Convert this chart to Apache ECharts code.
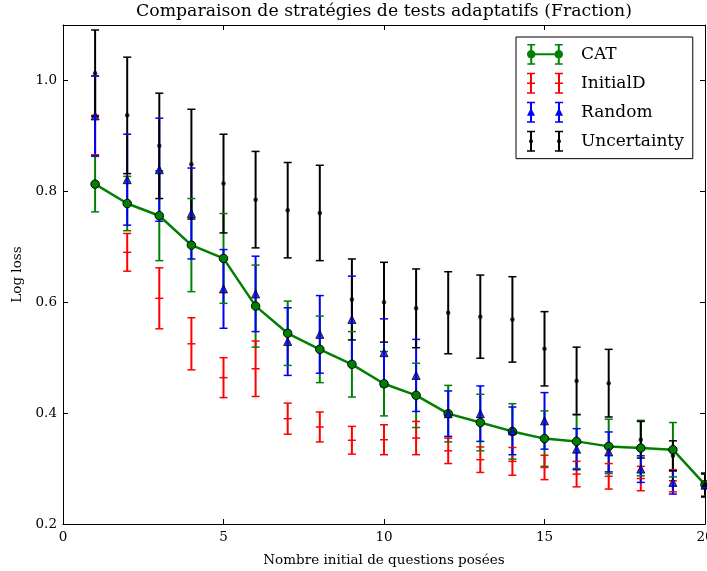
<!DOCTYPE html>
<html>
<head>
<meta charset="utf-8">
<script src="https://cdn.jsdelivr.net/npm/echarts@6/dist/echarts.min.js"></script>
<style>
html,body{margin:0;padding:0;background:#fff;}
#chart{width:707px;height:571px;}
</style>
</head>
<body>
<div id="chart"></div>
<script>
// ---- data ----
const xValues = [1,2,3,4,5,6,7,8,9,10,11,12,13,14,15,16,17,18,19,20];
const catMean = [0.813,0.778,0.756,0.703,0.679,0.593,0.544,0.515,0.488,0.453,0.432,0.399,0.383,0.367,0.354,0.349,0.340,0.337,0.334,0.271];
const catErr  = [0.050,0.049,0.081,0.084,0.081,0.074,0.058,0.060,0.059,0.058,0.058,0.051,0.051,0.050,0.050,0.049,0.049,0.050,0.049,0.021];
const initMean = [0.937,0.690,0.607,0.525,0.464,0.480,0.390,0.375,0.351,0.352,0.355,0.332,0.316,0.313,0.302,0.290,0.286,0.282,0.278,0.270];
const initErr  = [0.071,0.034,0.055,0.047,0.036,0.050,0.028,0.027,0.025,0.027,0.030,0.023,0.023,0.025,0.022,0.023,0.023,0.022,0.020,0.020];
const randMean = [0.936,0.821,0.839,0.760,0.624,0.615,0.529,0.542,0.569,0.509,0.468,0.399,0.399,0.368,0.386,0.335,0.330,0.299,0.275,0.270];
const randErr  = [0.072,0.082,0.093,0.082,0.071,0.068,0.061,0.070,0.078,0.061,0.065,0.041,0.050,0.043,0.051,0.037,0.036,0.024,0.021,0.021];
const uncMean = [1.013,0.937,0.882,0.849,0.814,0.785,0.766,0.761,0.605,0.600,0.589,0.581,0.574,0.569,0.516,0.458,0.454,0.352,0.323,0.270];
const uncErr  = [0.078,0.105,0.095,0.099,0.089,0.087,0.086,0.086,0.073,0.072,0.071,0.074,0.075,0.077,0.067,0.061,0.061,0.033,0.027,0.021];
const xTicks = [0,5,10,15,20];
const yTicks = [0.2,0.4,0.6,0.8,1.0];
const seriesNames = ['CAT','InitialD','Random','Uncertainty'];
const titleText = 'Comparaison de stratégies de tests adaptatifs (Fraction)';

const FONT = 'DejaVu Serif';
const GREEN = '#008000', RED = '#ff0000', BLUE = '#0000ff', BLACK = '#000000';

function errData(means, errs){
  return xValues.map((x,i)=>[x, means[i]-errs[i], means[i]+errs[i], means[i]]);
}
function pts(means){ return xValues.map((x,i)=>[x, means[i]]); }

function makeErrRender(color, mode, midTick){
  return function(params, api){
    const x = api.value(0);
    const lo = api.coord([x, api.value(1)]);
    const hi = api.coord([x, api.value(2)]);
    const h = 4;
    const children = [];
    if (mode === 'bar'){
      children.push({type:'line', shape:{x1:hi[0],y1:hi[1],x2:lo[0],y2:lo[1]}, style:{stroke:color,lineWidth:2}});
    } else {
      children.push({type:'line', shape:{x1:hi[0]-h,y1:hi[1],x2:hi[0]+h,y2:hi[1]}, style:{stroke:color,lineWidth:1.5}});
      children.push({type:'line', shape:{x1:lo[0]-h,y1:lo[1],x2:lo[0]+h,y2:lo[1]}, style:{stroke:color,lineWidth:1.5}});
      if (midTick){
        const m = api.coord([x, api.value(3)]);
        children.push({type:'line', shape:{x1:m[0]-h,y1:m[1],x2:m[0]+h,y2:m[1]}, style:{stroke:color,lineWidth:1.5}});
      }
    }
    return {type:'group', children};
  };
}

function errSeries(name, color, means, errs, mode, midTick, z){
  return {
    name, type:'custom', clip:true, z,
    renderItem: makeErrRender(color, mode, midTick),
    itemStyle:{color},
    encode:{x:0, y:[1,2]},
    data: errData(means, errs),
    silent:true
  };
}

// legend icons (36 x 21 box)
function rect(x,y,w,h){ return 'M'+x+' '+y+'h'+w+'v'+h+'h'+(-w)+'Z'; }
function circ(cx,cy,r){ return 'M'+(cx-r)+' '+cy+'A'+r+' '+r+' 0 1 1 '+(cx+r)+' '+cy+'A'+r+' '+r+' 0 1 1 '+(cx-r)+' '+cy+'Z'; }
function tri(cx,cy){ return 'M'+cx+' '+(cy-4.5)+'L'+(cx+4)+' '+(cy+3.5)+'L'+(cx-4)+' '+(cy+3.5)+'Z'; }
const barsPath = rect(3,0,2,21)+rect(0,0,8,1.5)+rect(0,19.5,8,1.5)+rect(31,0,2,21)+rect(28,0,8,1.5)+rect(28,19.5,8,1.5);
const iconCAT = 'path://'+barsPath+rect(4,9.5,28,2)+circ(4,10.5,4.3)+circ(32,10.5,4.3);
const iconInit = 'path://'+barsPath+rect(0,9.75,8,1.5)+rect(28,9.75,8,1.5);
const iconRand = 'path://'+barsPath+tri(4,10.5)+tri(32,10.5);
const iconUnc = 'path://'+barsPath+circ(4,10.5,2)+circ(32,10.5,2);

// center the title over the plot area
const TITLE_SIZE = 17.3;
const PLOT_CENTER = 384;
const mctx = document.createElement('canvas').getContext('2d');
mctx.font = TITLE_SIZE + 'px "' + FONT + '"';
const titleW = mctx.measureText(titleText).width;

const axisCommon = {
  type:'value',
  axisLine:{show:true, onZero:false, lineStyle:{color:BLACK, width:1}},
  axisTick:{show:true, inside:true, length:5, lineStyle:{color:BLACK, width:1}},
  splitLine:{show:false}
};

const option = {
  animation:false,
  backgroundColor:'#fff',
  title:{
    text:titleText,
    left:Math.round(PLOT_CENTER - titleW/2), top:0, padding:[3,0,0,0],
    textStyle:{fontFamily:FONT, fontSize:TITLE_SIZE, fontWeight:'normal', color:BLACK}
  },
  legend:{
    orient:'vertical', left:516, top:37,
    padding:[7,9,7,11],
    itemWidth:36, itemHeight:21, itemGap:8,
    backgroundColor:'#fff', borderColor:BLACK, borderWidth:1,
    textStyle:{fontFamily:FONT, fontSize:17, color:BLACK, padding:[0,0,0,13]},
    selectedMode:false,
    data:[
      {name:seriesNames[0], icon:iconCAT, itemStyle:{color:GREEN, borderWidth:0}},
      {name:seriesNames[1], icon:iconInit, itemStyle:{color:RED, borderWidth:0}},
      {name:seriesNames[2], icon:iconRand, itemStyle:{color:BLUE, borderWidth:0}},
      {name:seriesNames[3], icon:iconUnc, itemStyle:{color:BLACK, borderWidth:0}}
    ]
  },
  grid:{left:63, right:2, top:25, bottom:47, containLabel:false, outerBoundsMode:'none'},
  xAxis:[
    Object.assign({}, axisCommon, {
      min:xTicks[0], max:xTicks[xTicks.length-1], interval:xTicks[1]-xTicks[0], position:'bottom',
      axisLabel:{color:BLACK, fontFamily:FONT, fontSize:13.5, margin:6},
      name:'Nombre initial de questions posées', nameLocation:'middle', nameGap:29,
      nameTextStyle:{fontFamily:FONT, fontSize:13.5, color:BLACK}
    }),
    Object.assign({}, axisCommon, {
      min:xTicks[0], max:xTicks[xTicks.length-1], interval:xTicks[1]-xTicks[0], position:'top',
      axisLabel:{show:false}
    })
  ],
  yAxis:[
    Object.assign({}, axisCommon, {
      min:yTicks[0], max:1.1, interval:0.2, position:'left',
      axisLabel:{color:BLACK, fontFamily:FONT, fontSize:13.5, margin:6, showMaxLabel:false,
        formatter:function(v){ return v.toFixed(1); }},
      name:'Log loss', nameLocation:'middle', nameGap:38,
      nameTextStyle:{fontFamily:FONT, fontSize:13.5, color:BLACK}
    }),
    Object.assign({}, axisCommon, {
      min:yTicks[0], max:1.1, interval:0.2, position:'right',
      axisLabel:{show:false}
    })
  ],
  series:[
    // bar lines, in plotting order
    errSeries(seriesNames[0], GREEN, catMean, catErr, 'bar', false, 2),
    errSeries(seriesNames[1], RED, initMean, initErr, 'bar', false, 3),
    errSeries(seriesNames[2], BLUE, randMean, randErr, 'bar', false, 4),
    errSeries(seriesNames[3], BLACK, uncMean, uncErr, 'bar', false, 5),
    // caps
    errSeries(seriesNames[0], GREEN, catMean, catErr, 'cap', false, 6),
    errSeries(seriesNames[1], RED, initMean, initErr, 'cap', true, 6),
    errSeries(seriesNames[2], BLUE, randMean, randErr, 'cap', false, 6),
    errSeries(seriesNames[3], BLACK, uncMean, uncErr, 'cap', false, 6),
    // markers
    {
      name:seriesNames[0], type:'line', z:7,
      data:pts(catMean),
      symbol:'circle', symbolSize:8.5,
      itemStyle:{color:GREEN, borderColor:BLACK, borderWidth:1},
      lineStyle:{color:GREEN, width:2.5},
      silent:true
    },
    {
      name:seriesNames[2], type:'scatter', z:8,
      data:pts(randMean),
      symbol:'triangle', symbolSize:[8,8],
      itemStyle:{color:BLUE, borderColor:BLACK, borderWidth:1},
      silent:true
    },
    {
      name:seriesNames[3], type:'scatter', z:9,
      data:pts(uncMean),
      symbol:'circle', symbolSize:4.5,
      itemStyle:{color:BLACK},
      silent:true
    }
  ]
};

const chart = echarts.init(document.getElementById('chart'), null, {renderer:'canvas'});
chart.setOption(option);
</script>
</body>
</html>
